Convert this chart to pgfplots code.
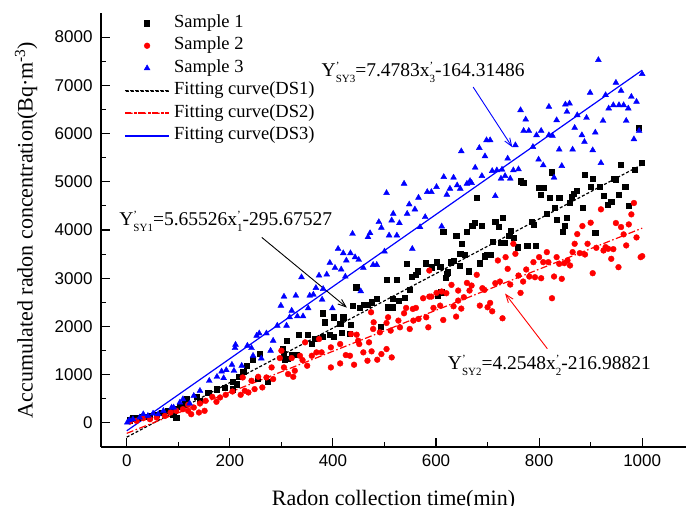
\documentclass[border=0pt]{standalone}
\usepackage{fontspec}
\setmainfont{Liberation Serif}
\newfontfamily\arialf{Liberation Sans}
\usepackage{pgfplots}
\pgfplotsset{compat=1.18}
\usetikzlibrary{arrows.meta}
\newcommand{\pss}[2]{\rlap{\raisebox{7pt}{\fontsize{11}{11}\selectfont #1}}\raisebox{-6pt}{\fontsize{11}{11}\selectfont #2}}
\begin{document}
\begin{tikzpicture}
\begin{axis}[
  scale only axis, width=585pt, height=434pt,
  xmin=-50, xmax=1085, ymin=-500, ymax=8500,
  axis x line*=bottom, axis y line*=left,
  axis line style={-, line width=1.1pt},
  xtick={0,200,...,1000}, ytick={0,1000,...,8000},
  minor x tick num=1, minor y tick num=1,
  tick align=inside, major tick length=9pt, minor tick length=5pt,
  every tick/.style={black, line width=1.1pt},
  /pgf/number format/assume math mode=true,
  scaled ticks=false, /pgf/number format/set thousands separator={},
  tick label style={font=\arialf\fontsize{17}{17}\selectfont},
  xticklabel style={yshift=-4pt},
  yticklabel style={xshift=-5pt},
  xlabel={Radon collection time(min)},
  ylabel={Accumulated radon concentration(Bq·m\textsuperscript{-3})},
  every axis x label/.style={at={(axis description cs:0.5,-0.134)}, anchor=base, font=\fontsize{22}{22}\selectfont},
  every axis y label/.style={at={(axis description cs:-0.128,0.5)}, rotate=90, anchor=center, font=\fontsize{22}{22}\selectfont},
  legend cell align=left,
  legend style={font=\fontsize{18.5}{20}\selectfont, draw=none, fill=none,
    at={(axis description cs:0,1)}, anchor=north west, xshift=24pt,
    inner sep=0pt, outer sep=0pt, row sep=2pt, column sep=3.5pt,
    nodes={inner sep=1.5pt, text height=13pt, text depth=4.5pt}},
  markleg/.style={legend image code/.code={\draw[mark repeat=2,mark phase=2,##1] plot coordinates {(0pt,0pt) (21.5pt,0pt) (43pt,0pt)};}},
]
\coordinate (bl) at (rel axis cs:0,0);
\coordinate (tr) at (rel axis cs:1,1);
% Sample 1
\addplot[only marks, mark=square*, mark size=2.6pt, color=black, markleg] coordinates {
(5,55)(12,97)(22,111)(32,125)(45,139)(58,166)(67,215)(80,250)(90,284)(90,180)(96,111)(103,333)(112,388)(116,492)(136,540)(142,457)(158,631)(174,700)(190,735)(205,852)(206,700)(213,804)(218,956)(226,1067)(232,1185)(245,1303)(254,908)(258,1441)(274,859)(303,1531)(307,1303)(310,1705)(313,1324)(304,1441)(320,1413)(329,1413)(333,1822)(351,1829)(359,1635)(364,1739)(380,1795)(380,2273)(384,2086)(393,1829)(401,1795)(401,2190)(414,2065)(417,1864)(420,2190)(432,1843)(434,2038)(438,2432)(445,2814)(452,2384)(459,2453)(467,2453)(475,2502)(485,2571)(493,1996)(504,2973)(507,2398)(515,2398)(516,2571)(524,2973)(527,2536)(540,2592)(543,3299)(549,2765)(553,3035)(561,3077)(564,3146)(580,3312)(591,3229)(601,3333)(604,2640)(610,2710)(621,3091)(646,3264)
(608,3243)(614,3957)(618,3007)(623,3125)(629,3333)(634,3368)(639,3888)(647,3506)(650,3714)(656,3486)(660,3957)(664,3146)(670,4096)(675,4144)(679,4664)(684,3312)(689,4096)(694,3458)(698,3486)(705,3486)(710,3763)(715,4165)(722,4075)(726,3735)(729,4255)(733,3735)(742,3888)(745,3991)(750,3832)(758,3645)(765,5010)(769,4983)(777,3680)(786,4165)(789,4117)(794,3680)(800,4879)(803,4733)(808,4879)(814,4338)(820,4664)(825,5197)(830,4456)(834,4213)(839,4664)(845,3971)(849,4082)(854,4255)(859,4574)(863,4685)(867,4754)(873,4823)(885,4456)(889,5149)(900,4906)(904,5066)(909,3936)(917,4906)(925,4719)(933,4525)(940,4594)(944,5066)(949,5052)(955,4733)(959,5357)(967,4906)(974,4497)(985,5253)(994,6126)(999,5391)
};
\addlegendentry{Sample 1}
% Sample 2
\addplot[only marks, mark=*, mark size=2.9pt, color=red, markleg] coordinates {
(6,28)(19,42)(32,97)(45,76)(58,111)(74,146)(85,215)(96,250)(109,284)(119,374)(119,250)(125,180)(130,319)(140,215)(142,402)(151,250)(153,457)(166,540)(174,437)(181,527)(192,582)(205,651)(221,582)(225,942)(229,665)(236,631)(242,873)(248,700)(255,956)(263,735)(271,942)(281,1150)(284,908)(297,1344)(305,1150)(313,1012)(323,956)(326,1081)
(300,1497)(320,1344)(336,1392)(341,1302)(346,1670)(350,1185)(359,1392)(368,1462)(373,1739)(378,1462)(396,1150)(396,1566)(414,1233)(414,1635)(425,1406)(433,1392)(435,1843)(441,1206)(446,1829)(449,1705)(451,1635)(459,1462)(467,1289)(470,1670)(474,2294)(475,1483)(478,1947)(479,2086)(486,1310)(491,1878)(494,1427)(504,1531)(504,2072)(507,2190)(512,1913)(514,1358)(527,2121)(530,1982)(538,2273)(542,2384)(549,1947)(555,2363)(556,2121)(561,2384)(566,2155)(575,2585)(581,2190)(585,1982)(587,2619)(587,3160)(591,2619)(595,2384)(601,2696)(608,2432)(643,2744)
(611,2724)(614,2134)(620,2689)(630,2862)(634,2418)(639,2204)(643,2536)(649,2370)(654,2606)(660,2903)(665,2744)(669,2848)(679,3070)(685,2432)(690,2793)(694,2758)(700,2398)(705,2488)(709,2314)(715,2897)(720,3368)(724,2931)(729,2169)(735,3437)(739,3194)(744,2869)(750,3714)(754,3506)(760,3056)(764,2696)(769,2931)(775,3181)(781,3035)(789,3333)(792,3021)(800,3437)(804,3000)(808,3333)(815,3541)(818,3333)(825,2585)(829,3035)(834,3437)(839,3298)(844,2987)(849,3312)(855,3368)(860,3264)(865,3541)(869,3714)(874,3915)(879,3520)(884,4082)(889,3492)(894,3714)(900,4151)(904,3104)(911,3631)(920,4428)(925,3575)(929,3645)(934,3610)(940,3402)(944,3603)(949,4144)(954,3229)(959,4061)(964,3909)(969,3680)(974,4116)(979,4324)(984,4560)(989,3846)(997,3437)(1000,3458)
};
\addlegendentry{Sample 2}
% Sample 3
\addplot[only marks, mark=triangle*, mark size=3.4pt, color=blue, markleg] coordinates {
(1,7)(5,55)(12,76)(25,111)(32,180)(41,146)(51,194)(61,180)(71,250)(87,319)(91,319)(103,423)(109,492)(122,402)(130,561)(142,665)(160,873)(175,956)(184,1067)(188,929)(193,1095)(204,1206)(208,1081)(210,1552)(211,1622)(223,1185)(234,1601)(242,1552)(245,1393)(252,1809)(257,1857)(261,1338)(271,1857)(279,1497)(284,1705)(292,2017)(316,2190)
(299,2432)(305,2619)(310,2017)(320,2328)(328,2640)(331,2211)(339,3021)(342,2211)(352,2377)(355,2640)(362,2661)(367,2800)(373,3056)(379,2557)(381,2779)(388,3077)(394,3319)(399,2377)(404,3215)(410,3610)(416,3181)(420,3520)(424,3035)(426,3368)(434,3520)(438,3922)(443,3437)(450,3382)(454,2730)(459,3215)(468,3853)(472,3936)(478,3277)(485,3277)(489,4165)(494,4047)(500,3555)(504,4768)(509,3888)(514,4200)(517,4338)(524,3888)(529,4144)(538,4962)(544,4338)(548,4532)(554,3610)(559,4428)(566,4671)(569,4061)(579,4269)(583,4789)(591,4789)(601,4893)
(611,4075)(615,5100)(621,4733)(627,4858)(634,5087)(641,4927)(647,4858)(649,5634)(660,4962)(666,5017)(669,4976)(676,5294)(684,5703)(689,5121)(695,5530)(698,5863)(705,5863)(709,5225)(715,4705)(718,5239)(726,5066)(728,5253)(734,5121)(739,5482)(744,5066)(750,5239)(754,5759)(760,5260)(764,6486)(770,6057)(774,6292)(780,6057)(788,5724)(795,5967)(799,5461)(804,6057)(808,5343)(819,6556)(819,5967)(826,5953)(829,5087)(834,6278)(839,5669)(844,5329)(851,6604)(854,6452)(859,6625)(865,5669)(869,6119)(874,6382)(883,5967)(888,5828)(892,6327)(899,6847)(904,5655)(909,6022)(915,7526)(920,5391)(924,6265)(929,6798)(935,6521)(944,6590)(949,7055)(955,6590)(959,6888)(964,6590)(969,6265)(973,6521)(979,6763)(984,5883)(989,6660)(994,6057)(1000,7235)
};
\addlegendentry{Sample 3}
% Fits
\addplot[black, line width=1.2pt, dash pattern=on 3pt off 2pt, legend image code/.code={\fill[black] (0pt,-0.6pt) rectangle (3pt,0.6pt) (5pt,-0.6pt) rectangle (8pt,0.6pt) (10pt,-0.6pt) rectangle (13pt,0.6pt) (15pt,-0.6pt) rectangle (18pt,0.6pt) (20pt,-0.6pt) rectangle (23pt,0.6pt) (25pt,-0.6pt) rectangle (28pt,0.6pt) (30pt,-0.6pt) rectangle (33pt,0.6pt) (35pt,-0.6pt) rectangle (38pt,0.6pt) (40pt,-0.6pt) rectangle (43pt,0.6pt);}] coordinates {(0,-295.68)(1000,5359.58)};
\addlegendentry{Fitting curve(DS1)}
\addplot[red, line width=1.2pt, dash pattern=on 7pt off 2.5pt on 1.5pt off 2.5pt, legend image code/.code={\fill[red] (0pt,-0.6pt) rectangle (7pt,0.6pt) (9.5pt,-0.6pt) rectangle (11pt,0.6pt) (13.5pt,-0.6pt) rectangle (20.5pt,0.6pt) (23pt,-0.6pt) rectangle (24.5pt,0.6pt) (27pt,-0.6pt) rectangle (34pt,0.6pt) (36.5pt,-0.6pt) rectangle (38pt,0.6pt) (40.5pt,-0.6pt) rectangle (43pt,0.6pt);}] coordinates {(0,-216.99)(1000,4037.81)};
\addlegendentry{Fitting curve(DS2)}
\addplot[blue, line width=1.2pt, legend image code/.code={\fill[blue] (0pt,-0.6pt) rectangle (43pt,0.6pt);}] coordinates {(0,-164.31)(1000,7313.99)};
\addlegendentry{Fitting curve(DS3)}
% annotations
\node[anchor=base, font=\fontsize{19.5}{20}\selectfont, inner sep=0pt] at (axis cs:575,7173) {Y\pss{'}{SY3}=7.4783x\pss{'}{3}-164.31486};
\node[anchor=base, font=\fontsize{19.5}{20}\selectfont, inner sep=0pt] at (axis cs:192,4096) {Y\pss{'}{SY1}=5.65526x\pss{'}{1}-295.67527};
\node[anchor=base, font=\fontsize{19.5}{20}\selectfont, inner sep=0pt] at (axis cs:820,1102) {Y\pss{'}{SY2}=4.2548x\pss{'}{2}-216.98821};
\draw[blue, line width=0.9pt, -{Straight Barb[length=8pt,width=6pt]}] (axis cs:672,6965) -- (axis cs:748,5717);
\draw[black, line width=0.9pt, -{Straight Barb[length=8pt,width=6pt]}] (axis cs:262,3846) -- (axis cs:427,2391);
\draw[red, line width=0.9pt, -{Straight Barb[length=8pt,width=6pt]}] (axis cs:816,1538) -- (axis cs:734,2682);
\end{axis}
\pgfresetboundingbox
\path ([xshift=-101pt,yshift=-59pt]bl) rectangle ([yshift=13pt]tr);
\end{tikzpicture}
\end{document}
